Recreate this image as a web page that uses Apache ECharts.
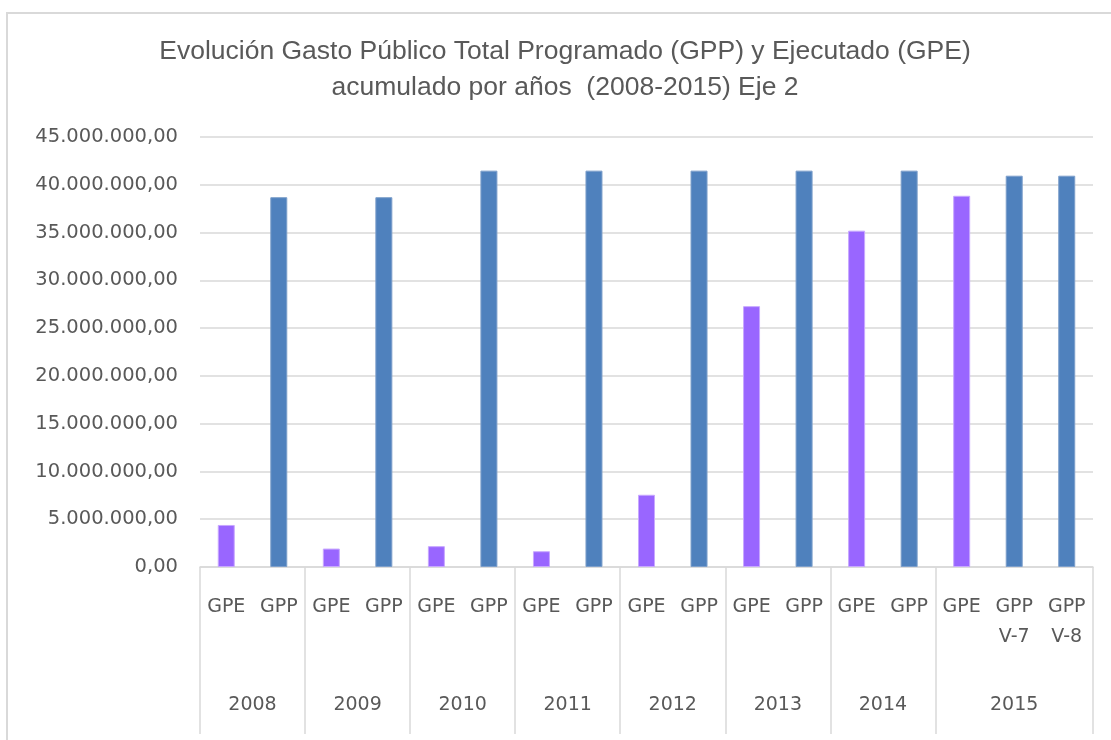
<!DOCTYPE html>
<html>
<head>
<meta charset="utf-8">
<script src="https://cdn.jsdelivr.net/npm/echarts@6/dist/echarts.min.js"></script>
<style>
  html, body { margin: 0; padding: 0; background: #fff; }
  #frame { position: absolute; left: 6px; top: 12px; width: 1200px; height: 800px; border: 2px solid #D9D9D9; }
  #chart-container { position: absolute; left: 0; top: 0; width: 1111px; height: 740px; }
</style>
</head>
<body>
<div id="frame"></div>
<div id="chart-container"></div>
<script>
// bar labels (first line + optional second line) and their year groups
var barLabels = ['GPE', 'GPP', 'GPE', 'GPP', 'GPE', 'GPP', 'GPE', 'GPP', 'GPE', 'GPP',
	'GPE', 'GPP', 'GPE', 'GPP', 'GPE', 'GPP\nV-7', 'GPP\nV-8'];
var barTypes = ['GPE', 'GPP', 'GPE', 'GPP', 'GPE', 'GPP', 'GPE', 'GPP', 'GPE', 'GPP',
	'GPE', 'GPP', 'GPE', 'GPP', 'GPE', 'GPP', 'GPP'];
var barValues = [4400000, 38700000, 1930000, 38700000, 2180000, 41480000, 1650000, 41480000,
	7560000, 41480000, 27300000, 41480000, 35200000, 41480000, 38850000, 40950000, 40950000];
var years = ['2008', '2009', '2010', '2011', '2012', '2013', '2014', '2015'];
var yearSizes = [2, 2, 2, 2, 2, 2, 2, 3];
var yTicks = [0, 5000000, 10000000, 15000000, 20000000, 25000000, 30000000, 35000000, 40000000, 45000000];

var colors = { GPE: '#9966FF', GPP: '#4F81BD' };
var borders = { GPE: '#C8A8FF', GPP: '#7D9FCB' };

// group boundaries and centres on a 0..n scale
var bounds = [0];
var centres = [];
yearSizes.forEach(function (s) {
	var b = bounds[bounds.length - 1];
	centres.push(b + s / 2);
	bounds.push(b + s);
});

function fmt(v) {
	var s = String(Math.round(v));
	return s.replace(/\B(?=(\d{3})+(?!\d))/g, '.') + ',00';
}

var dom = document.getElementById('chart-container');
var myChart = echarts.init(dom, null, { renderer: 'canvas' });

var option = {
	animation: false,
	title: {
		text: 'Evolución Gasto Público Total Programado (GPP) y Ejecutado (GPE)\nacumulado por años  (2008-2015) Eje 2',
		left: 565,
		textAlign: 'center',
		top: 34,
		padding: 0,
		textStyle: {
			fontFamily: 'Liberation Sans Narrow, Liberation Sans',
			fontSize: 26.5,
			fontWeight: 'normal',
			lineHeight: 36,
			color: '#595959'
		}
	},
	grid: {
		left: 200,
		right: 18,
		top: 137,
		bottom: 173
	},
	xAxis: [
		{
			type: 'category',
			data: barLabels,
			axisTick: { show: false },
			axisLine: { lineStyle: { color: '#D9D9D9', width: 1.5 } },
			axisLabel: {
				interval: 0,
				margin: 25,
				fontFamily: 'DejaVu Sans',
				fontSize: 19,
				lineHeight: 30,
				color: '#595959'
			}
		},
		{
			type: 'value',
			position: 'bottom',
			min: 0,
			max: bounds[bounds.length - 1],
			axisLine: { show: false },
			splitLine: { show: false },
			axisTick: {
				show: true,
				customValues: bounds,
				length: 167,
				lineStyle: { color: '#D9D9D9', width: 1.5 }
			},
			axisLabel: {
				customValues: centres,
				margin: 129,
				fontFamily: 'DejaVu Sans',
				fontSize: 19,
				color: '#595959',
				formatter: function (v) {
					var i = centres.indexOf(v);
					return i >= 0 ? years[i] : '';
				}
			}
		}
	],
	yAxis: {
		type: 'value',
		min: 0,
		max: 45000000,
		interval: 5000000,
		axisLine: { show: false },
		axisTick: { show: false },
		splitLine: { lineStyle: { color: '#D9D9D9', width: 1.5 } },
		axisLabel: {
			margin: 22,
			fontFamily: 'DejaVu Sans',
			fontSize: 19.5,
			color: '#595959',
			customValues: yTicks,
			formatter: fmt
		}
	},
	series: [
		{
			type: 'bar',
			xAxisIndex: 0,
			barWidth: 17,
			data: barValues.map(function (v, i) {
				return {
					value: v,
					itemStyle: {
						color: colors[barTypes[i]],
						borderColor: borders[barTypes[i]],
						borderWidth: 1
					}
				};
			})
		}
	]
};

myChart.setOption(option);
window.addEventListener('resize', myChart.resize);
</script>
</body>
</html>
